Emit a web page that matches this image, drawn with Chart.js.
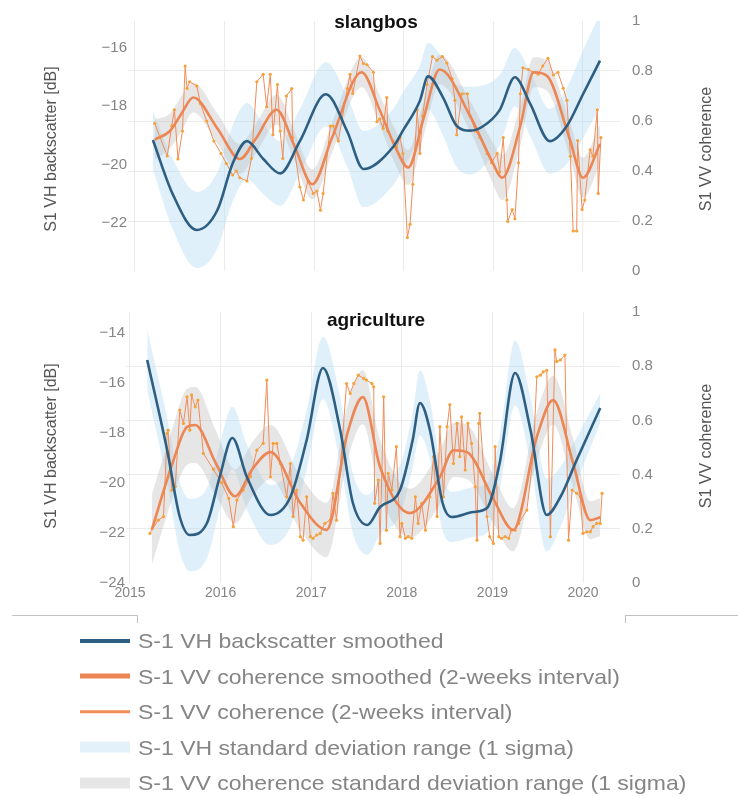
<!DOCTYPE html>
<html>
<head>
<meta charset="utf-8">
<script src="https://cdn.jsdelivr.net/npm/chart.js"></script>
<style>
  body { margin: 0; background: #fff; font-family: "Liberation Sans", Arial, sans-serif; }
  #wrap { position: relative; width: 738px; height: 796px; overflow: hidden; }
  canvas { position: absolute; left: 0; }
  #top { top: 0; }
  #bottom { top: 290px; }
  .frame { position: absolute; top: 615px; height: 7px; border-top: 1px solid #c2c2c2; }
  #frameL { left: 12px; width: 125px; border-right: 1px solid #c2c2c2; }
  #frameR { left: 625px; width: 113px; border-left: 1px solid #c2c2c2; }
  #legend { position: absolute; left: 0; top: 623px; width: 738px; }
  .row { position: relative; height: 35.5px; line-height: 35.5px; font-size: 21px; color: #858585; white-space: nowrap; }
  .sw { position: absolute; left: 80px; width: 50px; top: 50%; transform: translateY(-50%); }
  .txt { position: absolute; left: 138px; transform: scaleX(1.095); transform-origin: left center; }
</style>
</head>
<body>
<div id="wrap">
  <canvas id="top" width="738" height="292"></canvas>
  <canvas id="bottom" width="738" height="320"></canvas>
  <div class="frame" id="frameL"></div>
  <div class="frame" id="frameR"></div>
  <div id="legend"></div>
</div>
<script>
// series names / axis texts
const names = [
    'S-1 VH backscatter smoothed',
    'S-1 VV coherence smoothed (2-weeks interval)',
    'S-1 VV coherence (2-weeks interval)',
    'S-1 VH standard deviation range (1 sigma)',
    'S-1 VV coherence standard deviation range (1 sigma)'
];
const leftTitle = 'S1 VH backscatter [dB]';
const rightTitle = 'S1 VV coherence';

// tick labels
const years = [2015, 2016, 2017, 2018, 2019, 2020];
const cohTicks = [0, 0.2, 0.4, 0.6, 0.8, 1];
const topVhTicks = [-22, -20, -18, -16];
const botVhTicks = [-24, -22, -20, -18, -16, -14];

// ---- slangbos ----
const topVhYear = [2015.20, 2015.42, 2015.69, 2015.92, 2016.09, 2016.25, 2016.43, 2016.62, 2016.84, 2017.13, 2017.37, 2017.55, 2017.88, 2017.99,
    2018.18, 2018.27, 2018.44, 2018.59, 2018.74, 2018.88, 2019.07, 2019.24, 2019.41, 2019.63, 2019.82, 2020.00, 2020.19];
const topVh = [-19.16, -21.0, -22.23, -21.55, -19.96, -19.2, -19.8, -20.3, -19.2, -17.6, -18.88, -20.15, -19.4, -18.84,
    -17.82, -16.99, -17.72, -18.68, -18.84, -18.7, -18.14, -17.02, -17.92, -19.2, -18.68, -17.6, -16.45];
const topVhSd = [1.0, 1.2, 1.3, 1.3, 1.3, 1.3, 1.2, 1.1, 1.1, 1.1, 1.2, 1.3, 1.3, 1.3,
    1.2, 1.15, 1.3, 1.4, 1.5, 1.4, 1.2, 1.0, 1.1, 1.1, 1.3, 1.5, 1.6];

const topCohSmYear = [2015.22, 2015.39, 2015.52, 2015.65, 2015.92, 2016.17, 2016.35, 2016.58, 2016.78, 2016.98, 2017.2, 2017.53, 2017.73,
    2017.9, 2018.05, 2018.22, 2018.4, 2018.74, 2018.97, 2019.1, 2019.3, 2019.45, 2019.6, 2019.85, 2020.0, 2020.19];
const topCohSm = [0.526, 0.56, 0.63, 0.694, 0.57, 0.448, 0.53, 0.645, 0.5, 0.347, 0.534, 0.795, 0.645,
    0.5, 0.414, 0.61, 0.806, 0.62, 0.45, 0.373, 0.58, 0.795, 0.78, 0.53, 0.373, 0.508];
const topCohSd = [0.08, 0.07, 0.07, 0.06, 0.06, 0.06, 0.06, 0.06, 0.06, 0.06, 0.06, 0.06, 0.06,
    0.07, 0.07, 0.07, 0.06, 0.06, 0.08, 0.09, 0.08, 0.06, 0.06, 0.07, 0.08, 0.08];

const topCohYear = [2015.22, 2015.28, 2015.36, 2015.41, 2015.44, 2015.48, 2015.53, 2015.56, 2015.58, 2015.61, 2015.69, 2015.73, 2015.80, 2015.88,
    2015.96, 2016.02, 2016.09, 2016.13, 2016.17, 2016.25, 2016.30, 2016.36, 2016.43, 2016.47, 2016.51, 2016.54, 2016.59, 2016.62,
    2016.65, 2016.69, 2016.75, 2016.76, 2016.84, 2016.88, 2016.93, 2016.99, 2017.03, 2017.07, 2017.10, 2017.18, 2017.21, 2017.27,
    2017.37, 2017.40, 2017.43, 2017.51, 2017.55, 2017.59, 2017.66, 2017.70, 2017.73, 2017.77, 2017.81, 2017.82, 2017.88, 2017.92,
    2017.96, 2017.99, 2018.04, 2018.07, 2018.10, 2018.15, 2018.18, 2018.21, 2018.26, 2018.32, 2018.37, 2018.43, 2018.48, 2018.54,
    2018.57, 2018.59, 2018.65, 2018.71, 2018.74, 2018.80, 2018.85, 2018.93, 2018.98, 2019.04, 2019.07, 2019.11, 2019.15, 2019.16,
    2019.21, 2019.24, 2019.28, 2019.30, 2019.33, 2019.39, 2019.44, 2019.50, 2019.55, 2019.61, 2019.67, 2019.72, 2019.78, 2019.82,
    2019.86, 2019.89, 2019.93, 2019.94, 2019.99, 2020.02, 2020.08, 2020.11, 2020.16, 2020.17, 2020.20];
const topCoh = [0.59, 0.534, 0.46, 0.58, 0.645, 0.448, 0.56, 0.82, 0.73, 0.757, 0.74, 0.67, 0.60, 0.52,
    0.47, 0.43, 0.384, 0.40, 0.373, 0.36, 0.45, 0.757, 0.787, 0.657, 0.787, 0.545, 0.746, 0.56,
    0.45, 0.70, 0.73, 0.534, 0.336, 0.284, 0.36, 0.31, 0.32, 0.243, 0.31, 0.58, 0.58, 0.52,
    0.73, 0.787, 0.71, 0.86, 0.83, 0.825, 0.795, 0.597, 0.608, 0.57, 0.694, 0.56, 0.52, 0.496,
    0.534, 0.47, 0.134, 0.187, 0.347, 0.645, 0.47, 0.62, 0.746, 0.858, 0.843, 0.858, 0.832, 0.769,
    0.683, 0.545, 0.709, 0.709, 0.62, 0.56, 0.534, 0.47, 0.433, 0.47, 0.396, 0.534, 0.284, 0.198,
    0.246, 0.209, 0.433, 0.709, 0.813, 0.806, 0.795, 0.787, 0.82, 0.851, 0.784, 0.795, 0.731, 0.683,
    0.459, 0.16, 0.16, 0.522, 0.246, 0.284, 0.485, 0.459, 0.645, 0.31, 0.534];

// ---- agriculture ----
const botVhYear = [2015.19, 2015.41, 2015.55, 2015.66, 2015.85, 2015.99, 2016.13, 2016.29, 2016.55, 2016.77, 2016.95, 2017.13, 2017.32, 2017.46,
    2017.62, 2017.76, 2017.98, 2018.12, 2018.2, 2018.31, 2018.45, 2018.55, 2018.79, 2018.94, 2019.08, 2019.25, 2019.42, 2019.6,
    2019.75, 2019.93, 2020.19];
const botVh = [-15.08, -18.68, -21.36, -22.08, -21.6, -19.76, -18.2, -19.76, -21.28, -20.56, -18.28, -15.4, -17.88, -20.8,
    -21.68, -20.96, -20.28, -18.28, -16.8, -17.88, -20.8, -21.36, -21.16, -21.0, -19.2, -15.6, -17.88, -21.28,
    -20.56, -19.08, -17.0];
const botVhSd = [1.2, 1.3, 1.4, 1.45, 1.4, 1.3, 1.25, 1.3, 1.2, 1.2, 1.2, 1.25, 1.3, 1.2,
    1.2, 1.1, 1.0, 1.1, 1.3, 1.2, 1.1, 1.0, 1.0, 1.0, 1.1, 1.3, 1.3, 1.45,
    1.2, 0.9, 0.6];

const botCohSmYear = [2015.24, 2015.47, 2015.63, 2015.72, 2015.95, 2016.16, 2016.35, 2016.55, 2016.88, 2017.17, 2017.4, 2017.57,
    2017.76, 2018.09, 2018.42, 2018.57, 2018.72, 2019.0, 2019.23, 2019.49, 2019.67, 2019.89, 2020.08, 2020.19];
const botCohSm = [0.196, 0.443, 0.576, 0.583, 0.44, 0.32, 0.42, 0.483, 0.295, 0.196, 0.553, 0.686,
    0.428, 0.258, 0.391, 0.49, 0.483, 0.317, 0.196, 0.539, 0.675, 0.443, 0.232, 0.243];
const botCohSd = [0.13, 0.13, 0.14, 0.14, 0.12, 0.1, 0.1, 0.1, 0.1, 0.1, 0.1, 0.1,
    0.1, 0.09, 0.1, 0.1, 0.1, 0.09, 0.08, 0.09, 0.09, 0.09, 0.07, 0.07];

const botCohYear = [2015.22, 2015.31, 2015.37, 2015.41, 2015.42, 2015.46, 2015.50, 2015.55, 2015.59, 2015.63, 2015.66, 2015.68, 2015.72, 2015.75,
    2015.81, 2015.92, 2016.01, 2016.09, 2016.14, 2016.18, 2016.25, 2016.33, 2016.40, 2016.47, 2016.51, 2016.55, 2016.58, 2016.62,
    2016.66, 2016.73, 2016.77, 2016.80, 2016.84, 2016.88, 2016.91, 2016.95, 2016.99, 2017.02, 2017.06, 2017.10, 2017.15, 2017.21,
    2017.24, 2017.28, 2017.39, 2017.43, 2017.47, 2017.52, 2017.58, 2017.61, 2017.67, 2017.69, 2017.70, 2017.74, 2017.76, 2017.80,
    2017.83, 2017.85, 2017.89, 2017.94, 2017.98, 2018.00, 2018.04, 2018.07, 2018.11, 2018.15, 2018.18, 2018.22, 2018.26, 2018.31,
    2018.35, 2018.39, 2018.42, 2018.46, 2018.50, 2018.53, 2018.57, 2018.61, 2018.64, 2018.66, 2018.70, 2018.73, 2018.77, 2018.81,
    2018.83, 2018.85, 2018.86, 2018.94, 2018.97, 2019.01, 2019.03, 2019.07, 2019.10, 2019.14, 2019.18, 2019.21, 2019.25, 2019.29,
    2019.38, 2019.45, 2019.49, 2019.53, 2019.56, 2019.60, 2019.64, 2019.69, 2019.71, 2019.75, 2019.80, 2019.84, 2019.88, 2019.93,
    2019.97, 2020.00, 2020.04, 2020.08, 2020.11, 2020.15, 2020.19, 2020.21];
const botCoh = [0.183, 0.232, 0.245, 0.552, 0.564, 0.343, 0.356, 0.638, 0.589, 0.687, 0.564, 0.694, 0.650, 0.675,
    0.478, 0.42, 0.37, 0.312, 0.208, 0.306, 0.343, 0.392, 0.490, 0.515, 0.749, 0.392, 0.515, 0.515,
    0.441, 0.318, 0.441, 0.245, 0.343, 0.171, 0.158, 0.318, 0.171, 0.165, 0.177, 0.183, 0.220, 0.232,
    0.331, 0.232, 0.736, 0.699, 0.736, 0.767, 0.755, 0.749, 0.736, 0.724, 0.294, 0.380, 0.146, 0.687,
    0.195, 0.405, 0.343, 0.503, 0.171, 0.220, 0.165, 0.171, 0.165, 0.318, 0.220, 0.294, 0.195, 0.318,
    0.466, 0.245, 0.577, 0.318, 0.577, 0.658, 0.441, 0.589, 0.466, 0.613, 0.417, 0.589, 0.515, 0.355,
    0.158, 0.589, 0.626, 0.245, 0.171, 0.146, 0.503, 0.171, 0.165, 0.171, 0.165, 0.195, 0.195, 0.220,
    0.269, 0.466, 0.761, 0.767, 0.779, 0.785, 0.171, 0.860, 0.817, 0.823, 0.841, 0.158, 0.343, 0.331,
    0.318, 0.183, 0.189, 0.189, 0.208, 0.220, 0.220, 0.331];

// colours
const blue = '#2e5f83';
const orange = '#ec8654';
const rawOrange = '#f28c58';
const dotColor = '#f4a23a';
const blueBand = 'rgba(185,222,247,0.45)';
const greyBand = 'rgba(190,190,190,0.38)';
const gridColor = '#ebebeb';
const tickColor = '#858585';
const family = '"Liberation Sans", Arial, sans-serif';

function pts(xs, ys) {
    return xs.map((x, i) => ({ x: x, y: ys[i] }));
}
function shift(ys, sd, sign) {
    return ys.map((v, i) => v + sign * sd[i]);
}
function fmtMinus(v) {
    return v < 0 ? '\u2212' + Math.abs(v) : String(v);
}

// panel title + axis titles
const panelText = {
    id: 'panelText',
    afterDraw(chart, args, o) {
        const c = chart.ctx;
        c.save();
        c.textAlign = 'center';
        c.textBaseline = 'middle';
        c.fillStyle = '#111';
        c.font = 'bold 19px ' + family;
        c.fillText(o.title, 376, o.titleY);
        c.fillStyle = '#555';
        c.font = '16px ' + family;
        [[52, leftTitle], [707, rightTitle]].forEach(([x, t]) => {
            c.save();
            c.translate(x, o.axisY);
            c.rotate(-Math.PI / 2);
            c.fillText(t, 0, 0);
            c.restore();
        });
        c.restore();
    }
};

function panel(id, p) {
    const smooth = { pointRadius: 0, cubicInterpolationMode: 'monotone' };
    return new Chart(document.getElementById(id), {
        type: 'line',
        data: {
            datasets: [
                { label: names[0], data: pts(p.vhYear, p.vh), yAxisID: 'y', borderColor: blue, borderWidth: 2.6, order: 0, ...smooth },
                { label: names[1], data: pts(p.smYear, p.sm), yAxisID: 'y2', borderColor: orange, borderWidth: 2.6, order: 1, ...smooth },
                { label: names[2], data: pts(p.rawYear, p.raw), yAxisID: 'y2', borderColor: rawOrange, borderWidth: 1,
                  pointRadius: 1.6, pointBackgroundColor: dotColor, pointBorderWidth: 0, tension: 0, order: 2 },
                { label: names[3], data: pts(p.vhYear, shift(p.vh, p.vhSd, 1)), yAxisID: 'y', fill: '+1',
                  backgroundColor: blueBand, borderWidth: 0, order: 4, ...smooth },
                { label: '', data: pts(p.vhYear, shift(p.vh, p.vhSd, -1)), yAxisID: 'y', fill: false,
                  borderWidth: 0, order: 4, ...smooth },
                { label: names[4], data: pts(p.smYear, shift(p.sm, p.smSd, 1)), yAxisID: 'y2', fill: '+1',
                  backgroundColor: greyBand, borderWidth: 0, order: 3, ...smooth },
                { label: '', data: pts(p.smYear, shift(p.sm, p.smSd, -1)), yAxisID: 'y2', fill: false,
                  borderWidth: 0, order: 3, ...smooth }
            ]
        },
        options: {
            responsive: false,
            animation: false,
            events: [],
            layout: { padding: { top: p.padTop, left: 0, right: 0, bottom: 0 }, autoPadding: false },
            plugins: {
                legend: { display: false },
                tooltip: { enabled: false },
                panelText: { title: p.title, titleY: p.titleY, axisY: p.axisY }
            },
            scales: {
                x: {
                    type: 'linear', min: p.xMin, max: p.xMax,
                    afterBuildTicks: s => { s.ticks = years.map(v => ({ value: v })); },
                    afterFit: s => { s.height = p.xHeight; },
                    grid: { color: gridColor, drawTicks: false },
                    border: { display: false },
                    ticks: { display: p.showYears, padding: 2, color: tickColor, maxRotation: 0, autoSkip: false,
                             font: { size: 14, family: family }, callback: v => String(v) }
                },
                y: {
                    position: 'left', min: p.vhMin, max: p.vhMax,
                    afterBuildTicks: s => { s.ticks = p.vhTicks.map(v => ({ value: v })); },
                    afterFit: s => { s.width = p.left; },
                    grid: { display: false, drawTicks: false },
                    border: { display: false },
                    ticks: { padding: 1, color: tickColor, font: { size: 15, family: family }, callback: fmtMinus }
                },
                y2: {
                    position: 'right', min: 0, max: 1,
                    afterBuildTicks: s => { s.ticks = cohTicks.map(v => ({ value: v })); },
                    afterFit: s => { s.width = 118; },
                    grid: {
                        drawTicks: false,
                        color: c => (c.tick && (c.tick.value === 0 || c.tick.value === 1)) ? 'rgba(0,0,0,0)' : gridColor
                    },
                    border: { display: false },
                    ticks: { padding: 12, color: tickColor, font: { size: 15, family: family }, callback: v => String(v) }
                }
            }
        },
        plugins: [panelText]
    });
}

const topChart = panel('top', {
    title: 'slangbos', titleY: 23, axisY: 149, padTop: 15, xHeight: 9, showYears: false,
    left: 128, xMin: 2014.922, xMax: 2020.413, vhMin: -23.63, vhMax: -15.1, vhTicks: topVhTicks,
    vhYear: topVhYear, vh: topVh, vhSd: topVhSd,
    smYear: topCohSmYear, sm: topCohSm, smSd: topCohSd,
    rawYear: topCohYear, raw: topCoh
});

const bottomChart = panel('bottom', {
    title: 'agriculture', titleY: 31, axisY: 156, padTop: 22, xHeight: 27, showYears: true,
    left: 126, xMin: 2014.956, xMax: 2020.408, vhMin: -24, vhMax: -13.16, vhTicks: botVhTicks,
    vhYear: botVhYear, vh: botVh, vhSd: botVhSd,
    smYear: botCohSmYear, sm: botCohSm, smSd: botCohSd,
    rawYear: botCohYear, raw: botCoh
});

// legend below both panels
const swatches = [
    { h: 4, c: blue },
    { h: 5, c: orange },
    { h: 3.5, c: rawOrange },
    { h: 11, c: '#e3f1fb' },
    { h: 11, c: '#e6e6e6' }
];
const legend = document.getElementById('legend');
names.forEach((n, i) => {
    const row = document.createElement('div');
    row.className = 'row';
    row.innerHTML = '<span class="sw" style="height:' + swatches[i].h + 'px;background:' + swatches[i].c + '"></span>' +
        '<span class="txt"></span>';
    row.querySelector('.txt').textContent = n;
    legend.appendChild(row);
});
</script>
</body>
</html>
